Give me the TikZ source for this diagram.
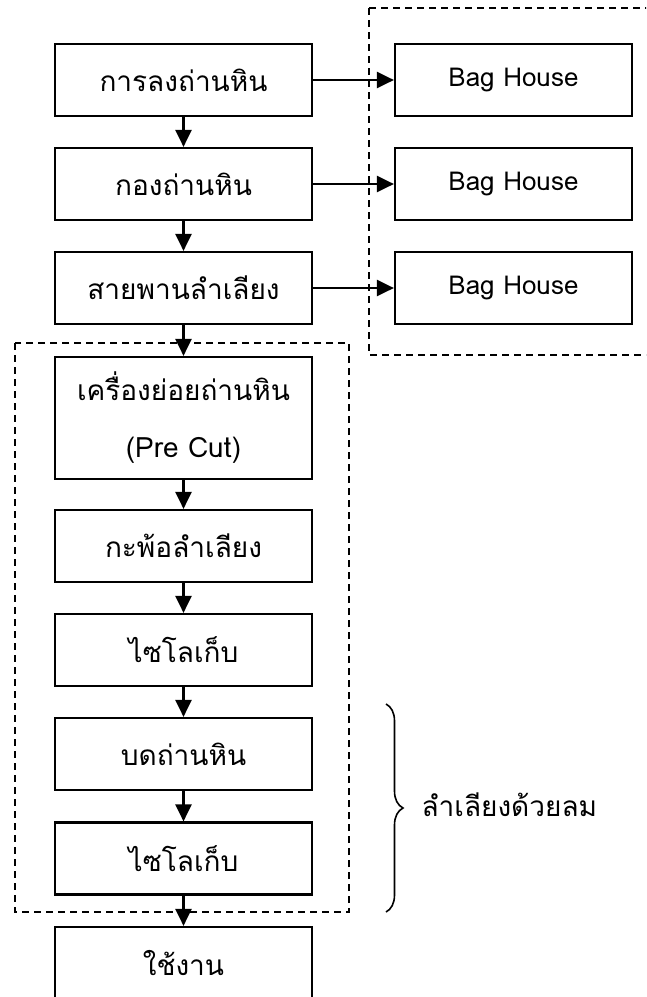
\documentclass[tikz,border=0pt]{standalone}
\usepackage{fontspec}
\newfontfamily\thaifont[Script=Thai]{Loma}
\usetikzlibrary{arrows.meta,decorations.pathreplacing}
\begin{document}
\begin{tikzpicture}[x=1pt,y=-1pt,
  box/.style={draw,line width=2.2pt,minimum width=257pt,minimum height=72pt,inner sep=0pt,font=\thaifont\fontsize{28}{32}\selectfont},
  bag/.style={box,minimum width=237pt,font=\thaifont\fontsize{26}{30}\selectfont},
  arr/.style={line width=2.4pt,-{Triangle[width=16pt,length=17pt]}},
  grp/.style={draw,line width=1.8pt,dash pattern=on 7pt off 5pt}]
\useasboundingbox (0,0) rectangle (646,997);
\clip (0,0) rectangle (646,997);
\fill[white] (0,0) rectangle (646,997);
% dashed groups
\draw[grp] (369,8) -- (680,8) (369,8) -- (369,355) -- (680,355);
\draw[grp] (15,343) rectangle (349,912);
% main column
\node[box] (b1) at (183.5,80) {การลงถ่านหิน};
\node[box] (b2) at (183.5,184) {กองถ่านหิน};
\node[box] (b3) at (183.5,288) {สายพานลำเลียง};
\node[box,minimum height=122pt,align=center] (b4) at (183.5,418) {เครื่องย่อยถ่านหิน\\[25pt](Pre Cut)};
\node[box] (b5) at (183.5,546) {กะพ้อลำเลียง};
\node[box] (b6) at (183.5,650) {ไซโลเก็บ};
\node[box] (b7) at (183.5,754) {บดถ่านหิน};
\node[box] (b8) at (183.5,858.5) {ไซโลเก็บ};
\node[box] (b9) at (183.5,963) {ใช้งาน};
% bag houses
\node[bag] (g1) at (513.5,80) {Bag House};
\node[bag] (g2) at (513.5,184) {Bag House};
\node[bag] (g3) at (513.5,288) {Bag House};
% arrows
\foreach \a/\b in {b1/b2,b2/b3,b3/b4,b4/b5,b5/b6,b6/b7,b7/b8,b8/b9}
  \draw[arr] (\a.south) -- (\b.north);
\foreach \a/\b in {b1/g1,b2/g2,b3/g3}
  \draw[arr] (\a.east) -- (\b.west);
% brace
\coordinate (bt) at (386,704);
\coordinate (bb) at (386,912);
\draw[line width=1.6pt,decorate,decoration={brace,amplitude=17pt}] (bt) -- (bb);
\node[font=\thaifont\fontsize{28}{32}\selectfont,anchor=west] (lbl) at (418,805) {ลำเลียงด้วยลม};
\end{tikzpicture}
\end{document}
